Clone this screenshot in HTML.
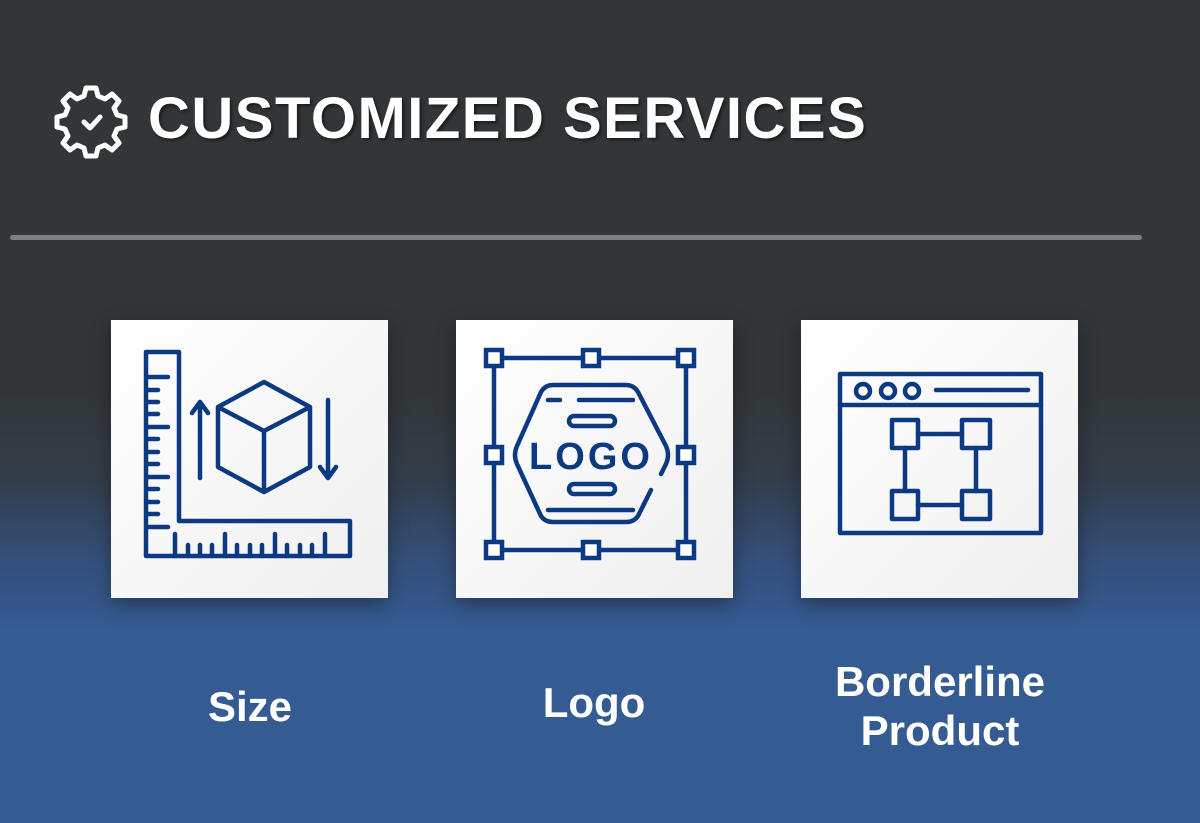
<!DOCTYPE html>
<html><head><style>
html,body{margin:0;padding:0}
body{width:1200px;height:823px;overflow:hidden;position:relative;font-family:"Liberation Sans",sans-serif;
background:linear-gradient(to bottom,#323638 0px,#323638 390px,#333d4a 480px,#344f7a 560px,#355b93 630px,#355b93 823px);}
.card{position:absolute;top:320px;width:277px;height:278px;background:linear-gradient(135deg,#ffffff,#efefef);box-shadow:0 6px 18px rgba(0,0,0,0.35)}
.title{position:absolute;left:148px;top:85px;font-size:58px;font-weight:bold;color:#fff;letter-spacing:1.5px;text-shadow:2px 2px 3px rgba(0,0,0,0.5);white-space:nowrap}
.lbl{position:absolute;color:#fff;font-weight:bold;font-size:42px;text-align:center;line-height:49px;width:300px}
svg{position:absolute;left:0;top:0}
</style></head><body>
<div class="title">CUSTOMIZED SERVICES</div>
<div style="position:absolute;left:10px;top:235px;width:1132px;height:5px;border-radius:3px;background:#7d7f80"></div>
<div class="card" style="left:111px"></div>
<div class="card" style="left:456px"></div>
<div class="card" style="left:801px"></div>
<svg width="1200" height="823" viewBox="0 0 1200 823">
<g fill="none" stroke="#fff" stroke-width="5" stroke-linejoin="round" stroke-linecap="round">
<path d="M86,88 h10 l2,8 l7,3 l7,-5 l7,7 l-5,7 l3,7 l8,2 v10 l-8,2 l-3,7 l5,7 l-7,7 l-7,-5 l-7,3 l-2,8 h-10 l-2,-8 l-7,-3 l-7,5 l-7,-7 l5,-7 l-3,-7 l-8,-2 v-10 l8,-2 l3,-7 l-5,-7 l7,-7 l7,5 l7,-3 z"/>
<path d="M84,122 l6,6 l10,-11"/>
</g>
<g fill="none" stroke="#0c3a82" stroke-width="4.5" stroke-linejoin="round" stroke-linecap="round">
<path d="M146,352 H179 V521 H350 V556 H146 Z"/>
<path d="M148,377h20M148,390h10M148,402h10M148,414h10M148,427h20M148,439h10M148,452h10M148,464h10M148,477h20M148,489h10M148,502h10M148,514h10M148,527h20"/>
<path d="M175,556v-22M188,556v-11M200,556v-11M212,556v-11M225,556v-22M237,556v-11M250,556v-11M262,556v-11M275,556v-22M287,556v-11M300,556v-11M312,556v-11M325,556v-22"/>
<path d="M264,382 L218,407 L264,431 L310,407 Z M218,407 V467 L264,492 L310,467 V407 M264,431 V492"/>
<path d="M200,478 V402 M192,413 L200,402 L208,413"/>
<path d="M328,400 V478 M320,467 L328,478 L336,467"/>
<path d="M494,358 H686 V550 H494 Z"/>
<path d="M661,474 L666,464 Q670,455 666,446 L638,392 Q634,385 626,385 H553 Q545,385 541,392 L517,446 Q513,455 517,464 L541,516 Q545,522 553,522 H626 Q634,522 638,516 L651,490"/>
<path d="M548,400h12M579,400h54M548,510h85"/>
<rect x="569" y="416" width="46" height="10" rx="5"/>
<rect x="569" y="484" width="46" height="10" rx="5"/>
<rect x="840" y="374" width="201" height="159"/>
<path d="M840,405 H1041 M936,390 H1028"/>
<circle cx="863" cy="391" r="7"/><circle cx="888" cy="391" r="7"/><circle cx="912" cy="391" r="7"/>
<path d="M918,434 H962 M918,505 H962 M905,448 V491 M976,448 V491"/>
<rect x="892" y="420" width="26" height="28"/><rect x="962" y="420" width="28" height="28"/>
<rect x="892" y="491" width="26" height="28"/><rect x="962" y="491" width="28" height="28"/>
</g>
<g fill="#fff" stroke="#0c3a82" stroke-width="4.5">
<rect x="486" y="350" width="16" height="16"/><rect x="583" y="350" width="16" height="16"/><rect x="678" y="350" width="16" height="16"/>
<rect x="486" y="447" width="16" height="16"/><rect x="678" y="447" width="16" height="16"/>
<rect x="486" y="542" width="16" height="16"/><rect x="583" y="542" width="16" height="16"/><rect x="678" y="542" width="16" height="16"/>
</g>
<text x="591" y="469" text-anchor="middle" font-family="Liberation Sans" font-weight="bold" font-size="38" fill="#0c3a82" letter-spacing="3">LOGO</text>
</svg>
<div class="lbl" style="left:100px;top:682px">Size</div>
<div class="lbl" style="left:444px;top:678px">Logo</div>
<div class="lbl" style="left:790px;top:657px">Borderline<br>Product</div>
</body></html>
